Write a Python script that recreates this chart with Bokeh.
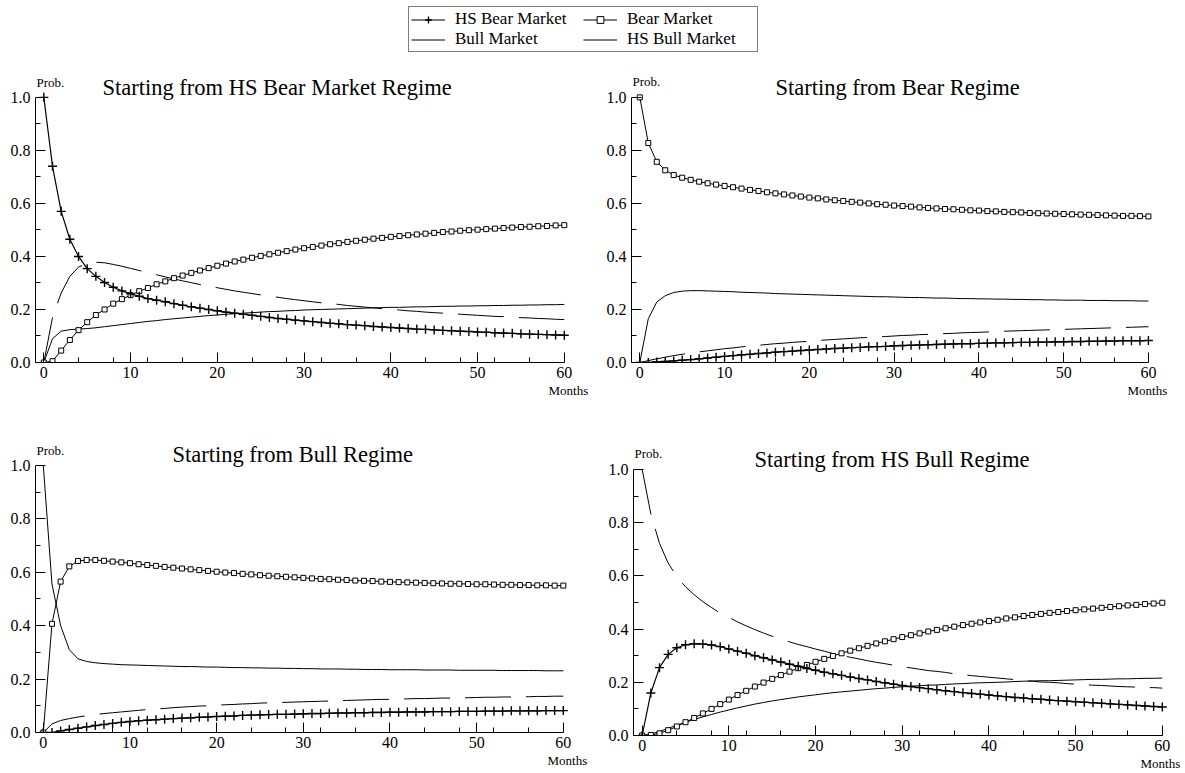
from bokeh.plotting import figure
from bokeh.models import (Range1d, FixedTicker, Label, Legend, LegendItem, Title,
                          ColumnDataSource, PrintfTickFormatter)
from bokeh.layouts import column, row
from bokeh.embed import file_html
from bokeh.resources import INLINE

# ---------------- data ----------------
months = list(range(61))

series_names = ["HS Bear Market", "Bear Market", "Bull Market", "HS Bull Market"]
panel_titles = ["Starting from HS Bear Market Regime", "Starting from Bear Regime",
                "Starting from Bull Regime", "Starting from HS Bull Regime"]
y_ticks = [0.0, 0.2, 0.4, 0.6, 0.8, 1.0]
y_minor = [0.1, 0.3, 0.5, 0.7, 0.9]
x_ticks = [0, 10, 20, 30, 40, 50, 60]
x_minor = [4, 8, 12, 16, 24, 28, 32, 36, 44, 48, 52, 56]

# Panel 1: starting from HS Bear
p1_hs_bear = [1.0,
    0.74, 0.57, 0.465, 0.40, 0.354, 0.325, 0.302, 0.284, 0.27, 0.259,
    0.25, 0.241, 0.235, 0.229, 0.222, 0.216, 0.21, 0.205, 0.2, 0.195,
    0.19, 0.186, 0.182, 0.178, 0.174, 0.17, 0.166, 0.163, 0.16, 0.157,
    0.154, 0.151, 0.148, 0.146, 0.143, 0.141, 0.139, 0.136, 0.134, 0.132,
    0.13, 0.128, 0.126, 0.125, 0.123, 0.121, 0.12, 0.118, 0.117, 0.115,
    0.114, 0.112, 0.111, 0.11, 0.108, 0.107, 0.106, 0.105, 0.104, 0.103]
p1_bear = [0.0,
    0.005, 0.045, 0.085, 0.122, 0.152, 0.179, 0.2, 0.222, 0.239, 0.254,
    0.269, 0.281, 0.295, 0.306, 0.318, 0.328, 0.338, 0.347, 0.356, 0.365,
    0.373, 0.381, 0.388, 0.395, 0.402, 0.408, 0.414, 0.42, 0.426, 0.431,
    0.436, 0.441, 0.446, 0.45, 0.455, 0.459, 0.463, 0.467, 0.47, 0.474,
    0.477, 0.48, 0.483, 0.486, 0.489, 0.492, 0.494, 0.497, 0.499, 0.501,
    0.503, 0.505, 0.507, 0.509, 0.511, 0.512, 0.514, 0.515, 0.517, 0.518]
p1_bull = [0.0,
    0.09, 0.118, 0.124, 0.126, 0.128, 0.131, 0.135, 0.139, 0.143, 0.147,
    0.151, 0.155, 0.158, 0.162, 0.165, 0.168, 0.171, 0.174, 0.177, 0.179,
    0.182, 0.184, 0.186, 0.188, 0.19, 0.192, 0.193, 0.195, 0.196, 0.198,
    0.199, 0.2, 0.201, 0.202, 0.203, 0.204, 0.205, 0.206, 0.207, 0.208,
    0.208, 0.209, 0.21, 0.21, 0.211, 0.212, 0.212, 0.213, 0.213, 0.214,
    0.214, 0.215, 0.215, 0.216, 0.216, 0.217, 0.217, 0.218, 0.218, 0.219]
p1_hs_bull = [0.0,
    0.17, 0.262, 0.325, 0.36, 0.374, 0.378, 0.376, 0.37, 0.363, 0.355,
    0.347, 0.339, 0.331, 0.323, 0.315, 0.308, 0.301, 0.294, 0.288, 0.282,
    0.276, 0.27, 0.265, 0.26, 0.255, 0.25, 0.246, 0.241, 0.237, 0.233,
    0.229, 0.225, 0.222, 0.219, 0.215, 0.212, 0.209, 0.206, 0.203, 0.2,
    0.198, 0.195, 0.193, 0.19, 0.188, 0.186, 0.184, 0.182, 0.18, 0.178,
    0.176, 0.174, 0.173, 0.171, 0.169, 0.168, 0.166, 0.165, 0.163, 0.162]

# Panel 2: starting from Bear
p2_hs_bear = [0.0,
    0.0, 0.002, 0.004, 0.006, 0.009, 0.011, 0.014, 0.017, 0.02, 0.023,
    0.026, 0.029, 0.031, 0.034, 0.036, 0.039, 0.041, 0.043, 0.045, 0.047,
    0.049, 0.051, 0.053, 0.054, 0.056, 0.057, 0.059, 0.06, 0.061, 0.063,
    0.064, 0.065, 0.066, 0.067, 0.068, 0.069, 0.07, 0.071, 0.071, 0.072,
    0.073, 0.074, 0.074, 0.075, 0.076, 0.076, 0.077, 0.077, 0.078, 0.078,
    0.079, 0.079, 0.08, 0.08, 0.081, 0.081, 0.082, 0.082, 0.082, 0.083]
p2_bear = [1.0,
    0.828, 0.757, 0.725, 0.707, 0.697, 0.689, 0.682, 0.676, 0.671, 0.666,
    0.661, 0.656, 0.651, 0.647, 0.642, 0.638, 0.634, 0.63, 0.626, 0.622,
    0.619, 0.615, 0.612, 0.609, 0.606, 0.603, 0.6, 0.597, 0.595, 0.592,
    0.59, 0.588, 0.585, 0.583, 0.581, 0.579, 0.578, 0.576, 0.574, 0.573,
    0.571, 0.57, 0.568, 0.567, 0.566, 0.564, 0.563, 0.562, 0.561, 0.56,
    0.559, 0.558, 0.557, 0.556, 0.555, 0.554, 0.553, 0.553, 0.552, 0.551]
p2_bull = [0.0,
    0.165, 0.228, 0.252, 0.264, 0.269, 0.271, 0.271, 0.27, 0.269, 0.268,
    0.267, 0.265, 0.264, 0.263, 0.262, 0.26, 0.259, 0.258, 0.257, 0.256,
    0.255, 0.254, 0.253, 0.252, 0.251, 0.25, 0.249, 0.248, 0.248, 0.247,
    0.246, 0.245, 0.245, 0.244, 0.243, 0.243, 0.242, 0.241, 0.241, 0.24,
    0.24, 0.239, 0.239, 0.238, 0.238, 0.237, 0.237, 0.236, 0.236, 0.235,
    0.235, 0.235, 0.234, 0.234, 0.234, 0.233, 0.233, 0.233, 0.232, 0.232]
p2_hs_bull = [0.0,
    0.007, 0.014, 0.02, 0.026, 0.031, 0.036, 0.04, 0.044, 0.048, 0.052,
    0.055, 0.059, 0.062, 0.065, 0.068, 0.071, 0.073, 0.076, 0.078, 0.08,
    0.083, 0.085, 0.087, 0.089, 0.091, 0.093, 0.095, 0.097, 0.098, 0.1,
    0.102, 0.103, 0.105, 0.106, 0.108, 0.109, 0.11, 0.112, 0.113, 0.114,
    0.115, 0.117, 0.118, 0.119, 0.12, 0.121, 0.122, 0.123, 0.124, 0.125,
    0.126, 0.127, 0.128, 0.129, 0.13, 0.131, 0.132, 0.133, 0.134, 0.135]

# Panel 3: starting from Bull
p3_hs_bear = [0.0,
    0.0, 0.006, 0.011, 0.016, 0.021, 0.026, 0.03, 0.034, 0.038, 0.041,
    0.044, 0.046, 0.048, 0.05, 0.052, 0.054, 0.055, 0.057, 0.058, 0.06,
    0.061, 0.062, 0.064, 0.065, 0.066, 0.067, 0.068, 0.068, 0.069, 0.07,
    0.071, 0.071, 0.072, 0.073, 0.073, 0.074, 0.074, 0.075, 0.075, 0.076,
    0.076, 0.077, 0.077, 0.077, 0.078, 0.078, 0.078, 0.079, 0.079, 0.079,
    0.08, 0.08, 0.08, 0.081, 0.081, 0.081, 0.081, 0.082, 0.082, 0.082]
p3_bear = [0.0,
    0.407, 0.565, 0.622, 0.642, 0.646, 0.646, 0.643, 0.64, 0.637, 0.634,
    0.63, 0.627, 0.624, 0.62, 0.617, 0.614, 0.611, 0.608, 0.605, 0.602,
    0.599, 0.597, 0.594, 0.592, 0.589, 0.587, 0.585, 0.583, 0.581, 0.579,
    0.577, 0.575, 0.574, 0.572, 0.571, 0.569, 0.568, 0.567, 0.565, 0.564,
    0.563, 0.562, 0.561, 0.56, 0.559, 0.558, 0.557, 0.557, 0.556, 0.555,
    0.555, 0.554, 0.553, 0.553, 0.552, 0.552, 0.551, 0.551, 0.55, 0.55]
p3_bull = [1.0,
    0.556, 0.4, 0.31, 0.276, 0.266, 0.261, 0.258, 0.256, 0.254, 0.253,
    0.252, 0.251, 0.25, 0.249, 0.248, 0.247, 0.247, 0.246, 0.245, 0.245,
    0.244, 0.243, 0.243, 0.242, 0.242, 0.241, 0.241, 0.24, 0.24, 0.239,
    0.239, 0.238, 0.238, 0.238, 0.237, 0.237, 0.236, 0.236, 0.236, 0.235,
    0.235, 0.235, 0.235, 0.234, 0.234, 0.234, 0.234, 0.233, 0.233, 0.233,
    0.233, 0.233, 0.232, 0.232, 0.232, 0.232, 0.232, 0.231, 0.231, 0.231]
p3_hs_bull = [0.0,
    0.032, 0.045, 0.052, 0.058, 0.063, 0.067, 0.071, 0.074, 0.077, 0.08,
    0.083, 0.086, 0.088, 0.09, 0.093, 0.095, 0.097, 0.099, 0.1, 0.102,
    0.104, 0.105, 0.107, 0.108, 0.11, 0.111, 0.112, 0.113, 0.114, 0.115,
    0.116, 0.117, 0.118, 0.119, 0.12, 0.121, 0.122, 0.123, 0.124, 0.124,
    0.125, 0.126, 0.127, 0.127, 0.128, 0.129, 0.129, 0.13, 0.13, 0.131,
    0.132, 0.132, 0.133, 0.133, 0.134, 0.134, 0.135, 0.135, 0.136, 0.136]

# Panel 4: starting from HS Bull
p4_hs_bear = [0.0,
    0.16, 0.255, 0.305, 0.33, 0.341, 0.345, 0.344, 0.34, 0.334, 0.325,
    0.317, 0.309, 0.3, 0.292, 0.284, 0.276, 0.268, 0.26, 0.252, 0.245,
    0.238, 0.232, 0.226, 0.22, 0.214, 0.209, 0.203, 0.198, 0.193, 0.188,
    0.184, 0.18, 0.176, 0.172, 0.168, 0.165, 0.161, 0.158, 0.155, 0.152,
    0.149, 0.146, 0.143, 0.141, 0.138, 0.136, 0.133, 0.131, 0.129, 0.127,
    0.125, 0.123, 0.121, 0.119, 0.117, 0.115, 0.113, 0.111, 0.109, 0.107]
p4_bear = [0.0,
    0.002, 0.008, 0.02, 0.034, 0.05, 0.066, 0.083, 0.1, 0.118, 0.135,
    0.152, 0.168, 0.184, 0.199, 0.213, 0.227, 0.24, 0.253, 0.265, 0.277,
    0.288, 0.299, 0.309, 0.319, 0.328, 0.337, 0.346, 0.354, 0.362, 0.37,
    0.377, 0.384, 0.391, 0.397, 0.403, 0.409, 0.415, 0.42, 0.425, 0.43,
    0.435, 0.44, 0.444, 0.449, 0.453, 0.457, 0.461, 0.464, 0.468, 0.471,
    0.474, 0.477, 0.48, 0.483, 0.486, 0.489, 0.491, 0.494, 0.496, 0.499]
p4_bull = [0.0,
    0.005, 0.015, 0.027, 0.039, 0.05, 0.06, 0.07, 0.079, 0.088, 0.096,
    0.104, 0.111, 0.118, 0.124, 0.13, 0.135, 0.14, 0.145, 0.149, 0.153,
    0.157, 0.161, 0.164, 0.167, 0.17, 0.173, 0.176, 0.178, 0.181, 0.183,
    0.185, 0.187, 0.189, 0.19, 0.192, 0.194, 0.195, 0.197, 0.198, 0.199,
    0.2, 0.201, 0.203, 0.204, 0.205, 0.206, 0.206, 0.207, 0.208, 0.209,
    0.21, 0.211, 0.211, 0.212, 0.213, 0.213, 0.214, 0.215, 0.215, 0.216]
p4_hs_bull = [1.0,
    0.833, 0.722, 0.648, 0.597, 0.559, 0.529, 0.503, 0.481, 0.46, 0.444,
    0.427, 0.412, 0.398, 0.385, 0.373, 0.362, 0.352, 0.342, 0.334, 0.325,
    0.317, 0.308, 0.301, 0.294, 0.288, 0.281, 0.275, 0.27, 0.264, 0.259,
    0.254, 0.249, 0.244, 0.241, 0.237, 0.232, 0.229, 0.225, 0.222, 0.219,
    0.216, 0.213, 0.21, 0.206, 0.204, 0.201, 0.2, 0.198, 0.195, 0.193,
    0.191, 0.189, 0.188, 0.186, 0.184, 0.183, 0.182, 0.18, 0.18, 0.178]

# ---------------- style / layout ----------------
SERIF = "Liberation Serif"
DASH = "46 15"

def make_panel(title, hs_bear, bear, bull, hs_bull, cfg):
    x0 = cfg["x0"]
    p = figure(frame_width=cfg["fw"], frame_height=cfg["fh"],
               x_range=Range1d(x0, 60.6), y_range=Range1d(0.0, cfg["ye"]),
               output_backend="svg", toolbar_location=None,
               min_border_left=cfg["ml"], min_border_right=cfg["mr"],
               min_border_top=cfg["mt"], min_border_bottom=cfg["mb"])
    p.grid.visible = False
    p.outline_line_color = None
    p.background_fill_color = "white"
    p.border_fill_color = "white"

    src = ColumnDataSource(data=dict(m=months, hs_bear=hs_bear, bear=bear,
                                     bull=bull, hs_bull=hs_bull))
    p.line("m", "hs_bull", source=src, line_color="black", line_width=1,
           line_dash=DASH)
    p.line("m", "bull", source=src, line_color="black", line_width=1)
    p.line("m", "bear", source=src, line_color="black", line_width=1)
    p.scatter("m", "bear", source=src, marker="square", size=5,
              line_color="black", line_width=1, fill_color="white")
    p.line("m", "hs_bear", source=src, line_color="black", line_width=1.2)
    p.scatter("m", "hs_bear", source=src, marker="cross", size=9,
              line_color="black", line_width=1.4)

    xa = p.xaxis[0]
    xa.ticker = FixedTicker(ticks=x_ticks, minor_ticks=x_minor)
    xa.formatter = PrintfTickFormatter(format="%d")
    xa.bounds = (x0, 60)
    ya = p.yaxis[0]
    ya.ticker = FixedTicker(ticks=y_ticks, minor_ticks=y_minor)
    ya.formatter = PrintfTickFormatter(format="%.1f")
    ya.bounds = (0, 1)
    for ax in (xa, ya):
        ax.axis_line_color = "black"
        ax.axis_line_width = 1
        ax.major_tick_line_color = "black"
        ax.minor_tick_line_color = "black"
        ax.major_tick_in = 10
        ax.major_tick_out = 0
        ax.minor_tick_in = 5
        ax.minor_tick_out = 0
        ax.major_label_text_font = SERIF
        ax.major_label_text_font_size = "16px"
        ax.major_label_text_color = "black"
    xa.major_label_standoff = 4
    ya.major_label_standoff = 5

    # panel title (inside the frame's upper margin)
    p.add_layout(Label(x=cfg["tx"], y=1.0, y_offset=cfg["ty"], text=title,
                       text_font=SERIF, text_font_size="22.5px",
                       text_color="black", text_align="left",
                       text_baseline="alphabetic"))
    # "Prob." above the y axis
    p.add_layout(Label(x=x0, y=1.0, x_offset=1, y_offset=cfg["py"],
                       text="Prob.", text_font=SERIF, text_font_size="13px",
                       text_color="black", text_align="left",
                       text_baseline="alphabetic"))
    # "Months" under the right end of the x axis
    p.add_layout(Title(text="Months", align="left", offset=cfg["mo"],
                       standoff=0, text_font=SERIF, text_font_size="13px",
                       text_font_style="normal", text_color="black"), "below")
    return p

cfgs = [
    dict(x0=-0.96, ye=1.09, fw=534, fh=289, ml=35, mr=34, mt=15, mb=50,
         tx=6.76, ty=9.4, py=14.7, mo=513),
    dict(x0=-0.98, ye=1.09, fw=522, fh=289, ml=28, mr=32, mt=15, mb=50,
         tx=16.0, ty=10.0, py=16.3, mo=496),
    dict(x0=-0.90, ye=1.0746, fw=533, fh=287, ml=35, mr=37, mt=33, mb=41,
         tx=14.9, ty=11.0, py=15, mo=512),
    dict(x0=-1.00, ye=1.09, fw=534, fh=290, ml=28, mr=18, mt=33, mb=38,
         tx=12.95, ty=10.0, py=15.7, mo=507),
]

data = [
    (p1_hs_bear, p1_bear, p1_bull, p1_hs_bull),
    (p2_hs_bear, p2_bear, p2_bull, p2_hs_bull),
    (p3_hs_bear, p3_bear, p3_bull, p3_hs_bull),
    (p4_hs_bear, p4_bear, p4_bull, p4_hs_bull),
]
panels = [make_panel(t, *d, c) for t, d, c in zip(panel_titles, data, cfgs)]

# ---------------- legend strip ----------------
leg = figure(width=1185, height=58, x_range=Range1d(0, 1), y_range=Range1d(0, 1),
             output_backend="svg", toolbar_location=None,
             x_axis_type=None, y_axis_type=None, min_border=0)
leg.grid.visible = False
leg.outline_line_color = None
# single hidden sample (outside the visible range) so legend swatches render
hidden = ColumnDataSource(data=dict(x=[5], y=[5]))
r_hsb_l = leg.line("x", "y", source=hidden, line_color="black", line_width=1.2)
r_hsb_m = leg.scatter("x", "y", source=hidden, marker="cross", size=9,
                      line_color="black", line_width=1.4)
r_b_l = leg.line("x", "y", source=hidden, line_color="black", line_width=1)
r_b_m = leg.scatter("x", "y", source=hidden, marker="square", size=5,
                    line_color="black", fill_color="white", line_width=1)
r_bu = leg.line("x", "y", source=hidden, line_color="black", line_width=1)
r_hbu = leg.line("x", "y", source=hidden, line_color="black", line_width=1)
legend = Legend(items=[
    LegendItem(label=series_names[0], renderers=[r_hsb_l, r_hsb_m]),
    LegendItem(label=series_names[1], renderers=[r_b_l, r_b_m]),
    LegendItem(label=series_names[2], renderers=[r_bu]),
    LegendItem(label=series_names[3], renderers=[r_hbu]),
], location=(408, 6), orientation="horizontal", ncols=2, margin=0,
   padding=2, spacing=0, glyph_width=34, glyph_height=17, label_height=17,
   label_width=128, label_standoff=10, border_line_color="black",
   border_line_width=1, background_fill_color="white", background_fill_alpha=1,
   label_text_font=SERIF, label_text_font_size="17px", label_text_color="black")
leg.add_layout(legend)

layout = column(leg, row(panels[0], panels[1]), row(panels[2], panels[3]))

with open("out.html", "w") as f:
    f.write(file_html(layout, INLINE))
